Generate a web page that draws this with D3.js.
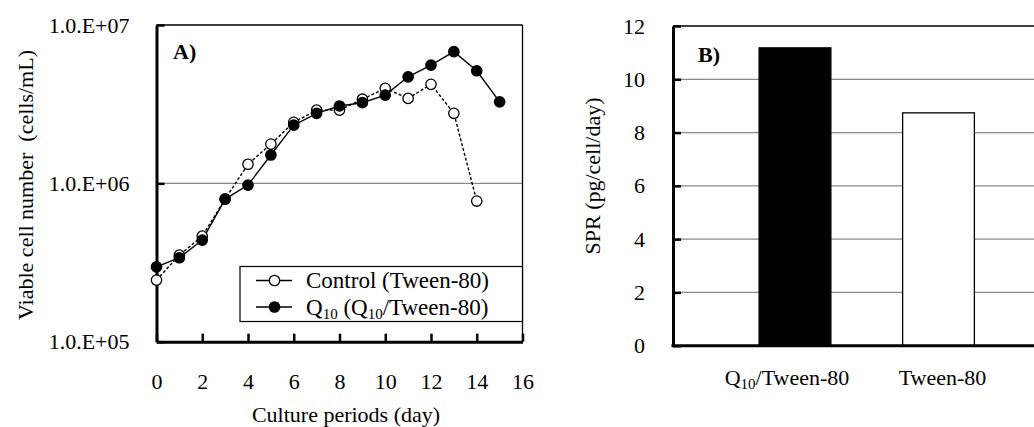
<!DOCTYPE html>
<html>
<head>
<meta charset="utf-8">
<script src="https://cdn.jsdelivr.net/npm/d3@7"></script>
<style>
  html, body { margin: 0; padding: 0; background: #fff; }
  svg { display: block; }
  svg text { font-family: "Liberation Serif", "Times New Roman", serif; }
</style>
</head>
<body>
<svg id="chart" width="1034" height="427"></svg>
<script>
// Panel A: viable cell number over the culture period
const days = [0, 1, 2, 3, 4, 5, 6, 7, 8, 9, 10, 11, 12, 13, 14, 15];
const controlCells = [2.45e5, 3.52e5, 4.64e5, 7.96e5, 1.32e6, 1.77e6, 2.43e6, 2.90e6, 2.90e6, 3.40e6, 3.98e6, 3.44e6, 4.22e6, 2.77e6, 7.73e5];
const q10Cells = [2.97e5, 3.39e5, 4.38e5, 7.96e5, 9.75e5, 1.51e6, 2.33e6, 2.77e6, 3.08e6, 3.23e6, 3.61e6, 4.71e6, 5.58e6, 6.78e6, 5.14e6, 3.27e6];
const dayTicks = [0, 2, 4, 6, 8, 10, 12, 14, 16];
const cellTicks = [1e5, 1e6, 1e7];
const cellTickLabels = ["1.0.E+05", "1.0.E+06", "1.0.E+07"];

// Panel B: specific production rate
const sprCategories = ["Q10/Tween-80", "Tween-80"];
const sprValues = [11.18, 8.74];
const sprTicks = [0, 2, 4, 6, 8, 10, 12];

const svg = d3.select("#chart");
const FS = 22;
const SERIF = "Liberation Serif";

// ---------- Panel A ----------
const ax = d3.scaleLinear().domain([0, 16]).range([156.5, 522.5]);
const ay = d3.scaleLog().domain([1e5, 1e7]).range([341.7, 25]);

const gA = svg.append("g");

// horizontal gridline at 1.0E+06
gA.append("line")
  .attr("x1", ax(0)).attr("x2", ax(16))
  .attr("y1", ay(1e6)).attr("y2", ay(1e6))
  .attr("stroke", "#8a8a8a").attr("stroke-width", 1.2);

// top and right frame
gA.append("line").attr("x1", ax(0)).attr("x2", ax(16)).attr("y1", ay(1e7)).attr("y2", ay(1e7))
  .attr("stroke", "#000").attr("stroke-width", 1.3);
gA.append("line").attr("x1", ax(16)).attr("x2", ax(16)).attr("y1", ay(1e7)).attr("y2", ay(1e5))
  .attr("stroke", "#000").attr("stroke-width", 1.3);

const axA = gA.append("g").attr("transform", `translate(0,${ay(1e5)})`)
  .call(d3.axisBottom(ax).tickValues(dayTicks).tickSizeInner(-8).tickSizeOuter(0).tickPadding(32));
const ayA = gA.append("g").attr("transform", `translate(${ax(0)},0)`)
  .call(d3.axisLeft(ay).tickValues(cellTicks).tickFormat((d, i) => cellTickLabels[i])
    .tickSizeInner(-8).tickSizeOuter(0).tickPadding(27));

[axA, ayA].forEach(g => {
  g.attr("font-family", SERIF);
  g.select(".domain").attr("stroke", "#000").attr("stroke-width", 3);
  g.selectAll(".tick line").attr("stroke", "#000").attr("stroke-width", 2.5);
  g.selectAll(".tick text").attr("font-family", SERIF).attr("font-size", FS).attr("fill", "#000");
});

// series lines
const lineGen = arr => d3.line().x((d, i) => ax(days[i])).y(d => ay(d))(arr);

gA.append("path").attr("d", lineGen(controlCells))
  .attr("fill", "none").attr("stroke", "#000").attr("stroke-width", 1.4)
  .attr("stroke-dasharray", "3,2");
gA.append("path").attr("d", lineGen(q10Cells))
  .attr("fill", "none").attr("stroke", "#000").attr("stroke-width", 1.4);

gA.selectAll("circle.ctrl").data(controlCells).enter().append("circle")
  .attr("class", "ctrl")
  .attr("cx", (d, i) => ax(days[i])).attr("cy", d => ay(d)).attr("r", 5.2)
  .attr("fill", "#fff").attr("stroke", "#000").attr("stroke-width", 1.3);
gA.selectAll("circle.q10").data(q10Cells).enter().append("circle")
  .attr("class", "q10")
  .attr("cx", (d, i) => ax(days[i])).attr("cy", d => ay(d)).attr("r", 5.2)
  .attr("fill", "#000").attr("stroke", "#000").attr("stroke-width", 1.3);

// panel letter
gA.append("text").attr("x", 173).attr("y", 59)
  .attr("font-size", FS).attr("font-weight", "bold").text("A)");

// legend
const LFS = 23;
const leg = gA.append("g");
leg.append("rect").attr("x", 240).attr("y", 266.5).attr("width", 282.5).attr("height", 55)
  .attr("fill", "#fff").attr("stroke", "#000").attr("stroke-width", 1.2);
const legRows = [
  { y: 280.5, fill: "#fff" },
  { y: 307, fill: "#000" }
];
legRows.forEach(r => {
  leg.append("line").attr("x1", 256).attr("x2", 292).attr("y1", r.y).attr("y2", r.y)
    .attr("stroke", "#000").attr("stroke-width", 1.3);
  leg.append("circle").attr("cx", 274.5).attr("cy", r.y).attr("r", 5.2)
    .attr("fill", r.fill).attr("stroke", "#000").attr("stroke-width", 1.3);
});
leg.append("text").attr("x", 306).attr("y", legRows[0].y + 7.5).attr("font-size", LFS)
  .text("Control (Tween-80)");
const t2 = leg.append("text").attr("x", 306).attr("y", legRows[1].y + 7.5).attr("font-size", LFS);
t2.append("tspan").text("Q");
t2.append("tspan").attr("font-size", 15).attr("dy", 4).text("10");
t2.append("tspan").attr("dy", -4).text(" (Q");
t2.append("tspan").attr("font-size", 15).attr("dy", 4).text("10");
t2.append("tspan").attr("dy", -4).text("/Tween-80)");

// axis titles
gA.append("text").attr("x", 346).attr("y", 421.5).attr("text-anchor", "middle")
  .attr("font-size", FS).text("Culture periods (day)");
gA.append("text").attr("transform", `translate(33,185) rotate(-90)`).attr("text-anchor", "middle")
  .attr("font-size", FS).attr("xml:space", "preserve").text("Viable cell number  (cells/mL)");

// ---------- Panel B ----------
const bx = d3.scaleBand().domain(sprCategories).range([673, 1060.5]).paddingInner(0.5).paddingOuter(0.6);
const by = d3.scaleLinear().domain([0, 12]).range([345.7, 26]);

const gB = svg.append("g");

// gridlines
gB.selectAll("line.grid").data(sprTicks.filter(t => t > 0 && t < 12)).enter().append("line")
  .attr("class", "grid")
  .attr("x1", bx.range()[0]).attr("x2", bx.range()[1])
  .attr("y1", d => by(d)).attr("y2", d => by(d))
  .attr("stroke", "#8a8a8a").attr("stroke-width", 1.2);
gB.append("line").attr("x1", bx.range()[0]).attr("x2", bx.range()[1]).attr("y1", by(12)).attr("y2", by(12))
  .attr("stroke", "#000").attr("stroke-width", 1.3);

// bars
gB.selectAll("rect.bar").data(sprValues).enter().append("rect")
  .attr("class", "bar")
  .attr("x", (d, i) => bx(sprCategories[i]))
  .attr("width", bx.bandwidth())
  .attr("y", d => by(d))
  .attr("height", d => by(0) - by(d))
  .attr("fill", (d, i) => i === 0 ? "#000" : "#fff")
  .attr("stroke", "#000").attr("stroke-width", 1.3);

const byA = gB.append("g").attr("transform", `translate(${bx.range()[0]},0)`)
  .call(d3.axisLeft(by).tickValues(sprTicks).tickSizeInner(-8).tickSizeOuter(0).tickPadding(28));
byA.attr("font-family", SERIF);
byA.select(".domain").attr("stroke", "#000").attr("stroke-width", 3);
byA.selectAll(".tick line").attr("stroke", "#000").attr("stroke-width", 2.5);
byA.selectAll(".tick text").attr("font-family", SERIF).attr("font-size", FS).attr("fill", "#000");

// baseline
gB.append("line").attr("x1", bx.range()[0] - 1.5).attr("x2", bx.range()[1]).attr("y1", by(0)).attr("y2", by(0))
  .attr("stroke", "#000").attr("stroke-width", 3);

// category labels
const c1 = gB.append("text").attr("x", bx(sprCategories[0]) + bx.bandwidth() / 2 - 8).attr("y", by(0) + 39.5)
  .attr("text-anchor", "middle").attr("font-size", FS);
c1.append("tspan").text("Q");
c1.append("tspan").attr("font-size", 15).attr("dy", 4).text("10");
c1.append("tspan").attr("dy", -4).text("/Tween-80");
gB.append("text").attr("x", bx(sprCategories[1]) + bx.bandwidth() / 2 + 4).attr("y", by(0) + 39.5)
  .attr("text-anchor", "middle").attr("font-size", FS).text("Tween-80");

gB.append("text").attr("x", 698).attr("y", 62)
  .attr("font-size", FS).attr("font-weight", "bold").text("B)");

gB.append("text").attr("transform", `translate(600,176) rotate(-90)`).attr("text-anchor", "middle")
  .attr("font-size", FS).text("SPR (pg/cell/day)");
</script>
</body>
</html>
